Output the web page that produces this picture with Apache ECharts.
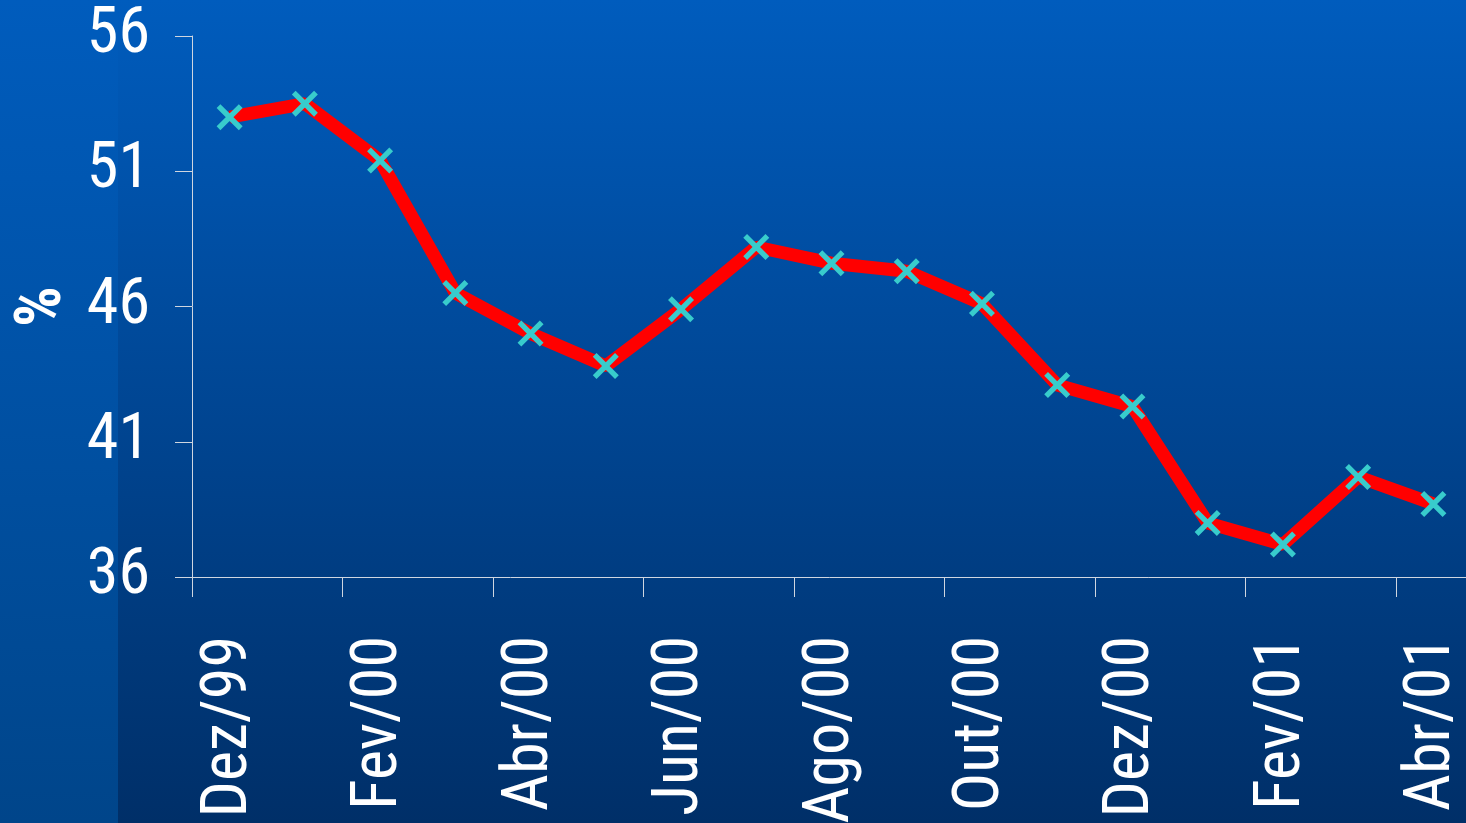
<!DOCTYPE html>
<html>
<head>
<meta charset="utf-8">
<style>
  html, body { margin: 0; padding: 0; width: 1466px; height: 823px; overflow: hidden; }
  #chart { width: 1466px; height: 823px; }
</style>
<script src="https://cdn.jsdelivr.net/npm/echarts@6/dist/echarts.min.js"></script>
</head>
<body>
<div id="chart"></div>
<script>
// Monthly share (%) from Dez/99 to Abr/01
const months = ['Dez/99', 'Jan/00', 'Fev/00', 'Mar/00', 'Abr/00', 'Mai/00', 'Jun/00', 'Jul/00',
  'Ago/00', 'Set/00', 'Out/00', 'Nov/00', 'Dez/00', 'Jan/01', 'Fev/01', 'Mar/01', 'Abr/01'];
const shares = [53.0, 53.5, 51.4, 46.5, 45.0, 43.8, 45.9, 48.2,
  47.6, 47.3, 46.1, 43.1, 42.3, 38.0, 37.2, 39.7, 38.7];
const yTicks = [36, 41, 46, 51, 56];

const FONT = "'Roboto Condensed', 'Liberation Sans Narrow', 'Arial Narrow', 'Liberation Sans', sans-serif";
const AXIS_COLOR = '#cfd6e0';

// Filled saltire (two crossed bars) used as the point marker
const CROSS = 'path://M17,0L117,100L100,117L0,17Z M117,17L17,117L0,100L100,0Z';

const chart = echarts.init(document.getElementById('chart'), null, { renderer: 'canvas' });

const mainBg = new echarts.graphic.LinearGradient(0, 0, 0, 1, [
  { offset: 0, color: '#005cbd' },
  { offset: 1, color: '#002f68' }
]);
const stripBg = new echarts.graphic.LinearGradient(0, 0, 0, 1, [
  { offset: 0, color: '#005cbd' },
  { offset: 1, color: '#00458a' }
]);

chart.setOption({
  backgroundColor: mainBg,
  animation: false,
  graphic: [{
    type: 'rect',
    z: -100,
    silent: true,
    shape: { x: 0, y: 0, width: 118, height: 823 },
    style: { fill: stripBg }
  }],
  grid: {
    left: 192, right: -5, top: 36, bottom: 246,
    containLabel: false,
    outerBoundsMode: 'none'
  },
  xAxis: {
    type: 'category',
    data: months,
    boundaryGap: true,
    axisLine: { show: true, lineStyle: { color: AXIS_COLOR, width: 1 } },
    axisTick: { show: true, interval: 1, length: 20, lineStyle: { color: AXIS_COLOR, width: 1 } },
    axisLabel: {
      interval: 1,
      rotate: 90,
      margin: 59,
      color: '#ffffff',
      fontFamily: FONT,
      fontSize: 64,
      hideOverlap: false
    },
    splitLine: { show: false }
  },
  yAxis: {
    type: 'value',
    min: yTicks[0],
    max: yTicks[yTicks.length - 1],
    interval: yTicks[1] - yTicks[0],
    name: '%',
    nameLocation: 'middle',
    nameRotate: 90,
    nameGap: 115,
    nameTextStyle: { color: '#ffffff', fontFamily: FONT, fontSize: 64, fontWeight: 'bold' },
    axisLine: { show: true, lineStyle: { color: AXIS_COLOR, width: 1 } },
    axisTick: { show: true, length: 17, lineStyle: { color: AXIS_COLOR, width: 1 } },
    axisLabel: { margin: 42, color: '#ffffff', fontFamily: FONT, fontSize: 64 },
    splitLine: { show: false }
  },
  series: [{
    type: 'line',
    data: shares,
    symbol: CROSS,
    symbolSize: 26,
    showAllSymbol: true,
    lineStyle: { color: '#ff0000', width: 13 },
    itemStyle: { color: '#38cccc', borderWidth: 0 },
    z: 3
  }]
});
</script>
</body>
</html>
